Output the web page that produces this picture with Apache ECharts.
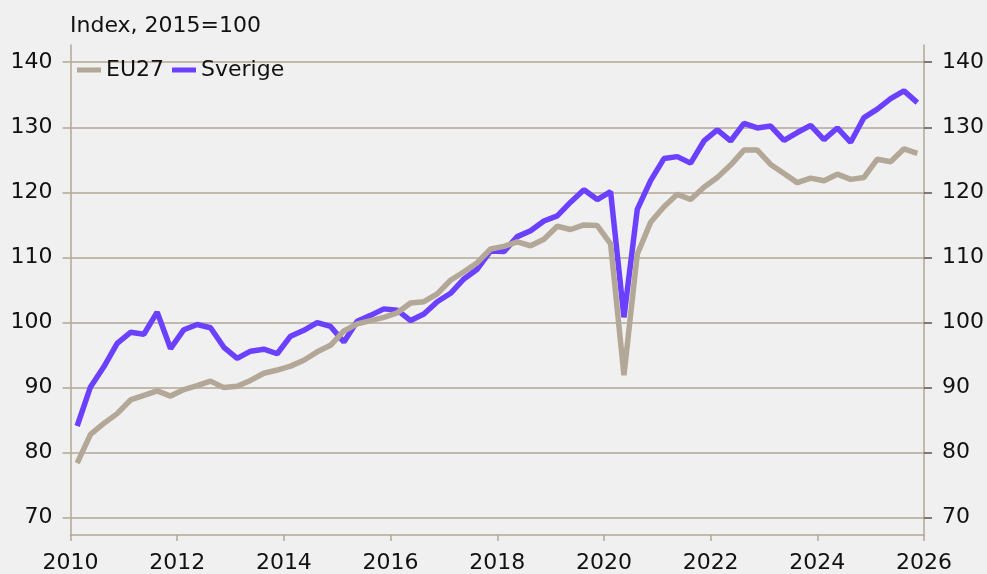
<!DOCTYPE html>
<html>
<head>
<meta charset="utf-8">
<script src="https://cdn.jsdelivr.net/npm/echarts@6/dist/echarts.min.js"></script>
<style>
  html, body { margin: 0; padding: 0; background: #f0f0f0; }
  #chart { width: 987px; height: 574px; }
</style>
</head>
<body>
<div id="chart"></div>
<script>
  // quarterly index, 2015=100, 2010Q1 .. 2025Q4
  const startYear = 2010;
  const eu27 = [
    78.4, 82.8, 84.5, 86.0, 88.1, 88.8, 89.5, 88.7, 89.7, 90.3,
    91.0, 90.0, 90.2, 91.1, 92.2, 92.7, 93.3, 94.2, 95.5, 96.5,
    98.7, 99.8, 100.3, 100.8, 101.5, 103.0, 103.2, 104.4, 106.5, 107.8,
    109.2, 111.3, 111.7, 112.4, 111.8, 112.8, 114.8, 114.3, 115.0, 114.9,
    112.1, 91.9, 110.5, 115.4, 117.8, 119.7, 118.9, 120.8, 122.3, 124.2,
    126.5, 126.5, 124.3, 122.9, 121.5, 122.2, 121.8, 122.8, 122.0, 122.3,
    125.1, 124.7, 126.7, 126.0
  ];
  const sverige = [
    84.1, 90.1, 93.2, 96.8, 98.5, 98.2, 101.6, 96.0, 98.9, 99.7,
    99.2, 96.2, 94.5, 95.6, 95.9, 95.2, 97.9, 98.8, 100.0, 99.4,
    97.0, 100.2, 101.1, 102.1, 101.9, 100.3, 101.3, 103.2, 104.5, 106.7,
    108.2, 111.0, 110.9, 113.2, 114.1, 115.6, 116.4, 118.5, 120.4, 118.9,
    120.1, 100.8, 117.4, 121.8, 125.2, 125.5, 124.5, 127.9, 129.6, 127.9,
    130.6, 129.9, 130.2, 128.0, 129.2, 130.3, 128.1, 129.9, 127.7, 131.5,
    132.8, 134.4, 135.6, 133.8
  ];
  const yTicks = [70, 80, 90, 100, 110, 120, 130, 140];

  const fontFamily = '"DejaVu Sans", sans-serif';
  const beige = '#b3a797';
  const purple = '#6b40ff';

  // place each quarter at its mid-point on the year axis
  function toPoints(arr) {
    return arr.map((v, i) => [startYear + (i + 0.5) / 4, v]);
  }

  function yAxis(pos, tickColor, showSplit) {
    return {
      type: 'value',
      position: pos,
      min: 67.35,
      max: 142.65,
      axisLine: { show: true, lineStyle: { color: beige, width: 1.5 } },
      axisTick: { show: true, length: 8, customValues: yTicks, lineStyle: { color: tickColor, width: 1.5 } },
      axisLabel: { customValues: yTicks, margin: 18, fontSize: 22, fontFamily: fontFamily, color: '#111' },
      splitLine: { show: showSplit, lineStyle: { color: beige, width: 1.5 } }
    };
  }

  const chartDom = echarts.init(document.getElementById('chart'));
  chartDom.setOption({
    backgroundColor: '#f0f0f0',
    animation: false,
    title: {
      text: 'Index, 2015=100',
      left: 70,
      top: 15,
      padding: 0,
      textStyle: { fontSize: 22, fontWeight: 'normal', fontFamily: fontFamily, color: '#111' }
    },
    legend: {
      data: ['EU27', 'Sverige'],
      left: 77,
      top: 59,
      padding: 0,
      icon: 'rect',
      itemWidth: 24,
      itemHeight: 5,
      itemGap: 8,
      textStyle: { fontSize: 22, fontFamily: fontFamily, color: '#111' }
    },
    grid: { left: 70.5, right: 63, top: 45, bottom: 37 },
    xAxis: {
      type: 'value',
      min: 2010,
      max: 2026,
      interval: 2,
      axisLine: { show: true, lineStyle: { color: beige, width: 1.5 } },
      axisTick: { show: true, length: 6, lineStyle: { color: beige, width: 1.5 } },
      axisLabel: { margin: 17, fontSize: 22, fontFamily: fontFamily, color: '#111', formatter: v => String(v) },
      splitLine: { show: false }
    },
    yAxis: [yAxis('left', beige, true), yAxis('right', '#555', false)],
    series: [
      {
        name: 'Sverige',
        type: 'line',
        showSymbol: false,
        data: toPoints(sverige),
        itemStyle: { color: purple },
        lineStyle: { color: purple, width: 5.5 }
      },
      {
        name: 'EU27',
        type: 'line',
        showSymbol: false,
        data: toPoints(eu27),
        itemStyle: { color: beige },
        lineStyle: { color: beige, width: 5.5 }
      }
    ]
  });
</script>
</body>
</html>
